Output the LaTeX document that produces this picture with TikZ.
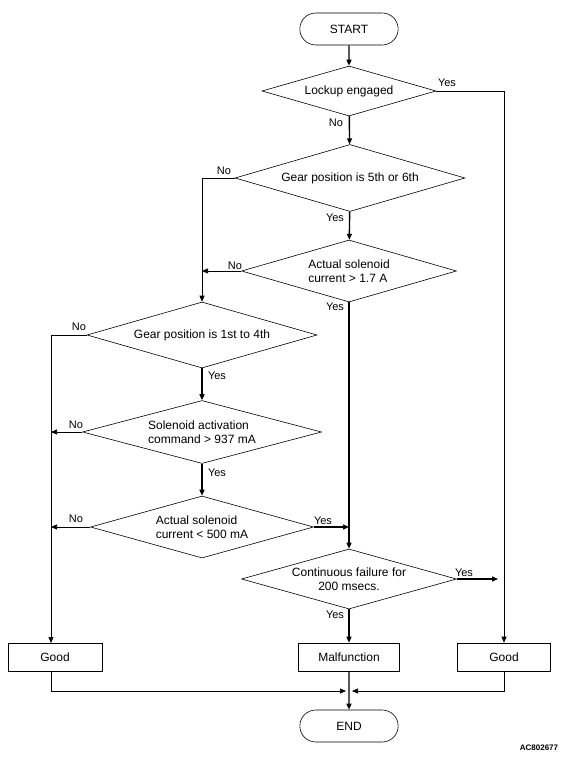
\documentclass[tikz,border=0pt]{standalone}
\usepackage{fontspec}
\setmainfont{Liberation Sans}
\usetikzlibrary{shapes.geometric,shapes.misc,arrows.meta}

\tikzset{
	term/.style={draw, rounded rectangle, minimum width=105pt, minimum height=32pt, line width=0.6pt, font=\fontsize{12}{14}\selectfont},
	decision/.style={draw, diamond, inner sep=0pt, line width=0.6pt, font=\fontsize{12}{14}\selectfont},
	outbox/.style={draw, rectangle, minimum width=94pt, minimum height=28pt, line width=0.6pt, font=\fontsize{12}{14}\selectfont},
	mainflow/.style={line width=1.4pt, -{Triangle[length=6pt,width=5pt]}},
	sideflow/.style={line width=0.7pt, -{Triangle[length=6pt,width=5pt]}},
	lbl/.style={font=\fontsize{11}{13}\selectfont, inner sep=0pt},
}

\begin{document}
\begin{tikzpicture}[x=1pt, y=-1pt]
		%%%%% START %%%%%
		\useasboundingbox (0,0) rectangle (574,762);
		
		\node[term] (start) at (349,29) {START};
		\node[decision, aspect=3.48, minimum width=174pt, minimum height=50pt] (lock) at (349,91) {Lockup engaged};
		\node[decision, aspect=3.43, minimum width=230pt, minimum height=67pt] (gearhi) at (350,178) {Gear position is 5th or 6th};
		\node[decision, aspect=3.47, minimum width=215pt, minimum height=62pt, align=left] (acthi) at (349,271) {Actual solenoid\\current > 1.7 A};
		
		\node[decision, aspect=3.48, minimum width=230pt, minimum height=66pt] (gearlo) at (202,335) {Gear position is 1st to 4th};
		\node[decision, aspect=3.79, minimum width=239pt, minimum height=63pt, align=left] (cmd) at (202,432) {Solenoid activation\\command > 937 mA};
		\node[decision, aspect=3.6, minimum width=223pt, minimum height=62pt, align=left] (actlo) at (202,527) {Actual solenoid\\current < 500 mA};
		\node[decision, aspect=3.58, minimum width=215pt, minimum height=60pt, align=center] (cont) at (349,579) {Continuous failure for\\200 msecs.};
		
		\node[outbox] (goodl) at (55,657) {Good};
		\node[outbox, minimum width=101pt] (malf) at (349,657) {Malfunction};
		\node[outbox, minimum width=93pt] (goodr) at (504,657) {Good};
		\node[term] (end) at (349,726) {END};
		
		\coordinate (lbus) at (51,643);
		\coordinate (join) at (349,691);
		
		% main line
		\draw[mainflow] (start) -- (lock);
		\draw[mainflow] (lock) -- (gearhi);
		\draw[mainflow] (gearhi) -- (acthi);
		\draw[mainflow] (acthi) -- (cont);
		\draw[mainflow] (gearlo) -- (cmd);
		\draw[mainflow] (cmd) -- (actlo);
		\draw[mainflow] (actlo.east) -- (actlo.east -| cont.north);
		\draw[mainflow, shorten >=6pt] (cont.east) -- (cont.east -| goodr.north);
		\draw[mainflow] (cont) -- (malf);
		\draw[mainflow] (malf) -- (end);
		
		% side branches
		\draw[sideflow] (lock.east) -| (goodr.north);
		\draw[sideflow] (gearhi.west) -| (gearlo.north);
		\draw[sideflow] (acthi.west) -- (acthi.west -| gearlo.north);
		\draw[sideflow] (gearlo.west) -| (lbus);
		\draw[sideflow] (cmd.west) -- (cmd.west -| lbus);
		\draw[sideflow] (actlo.west) -- (actlo.west -| lbus);
		\draw[sideflow, shorten >=3pt] (lbus |- goodl.south) |- (join);
		\draw[sideflow, shorten >=3pt] (goodr.south) |- (join);
		
		% labels
		\node[lbl] (l1) at (447,83) {Yes};
		\node[lbl] (l2) at (336,123) {No};
		\node[lbl] (l3) at (224,171) {No};
		\node[lbl] (l4) at (335,218) {Yes};
		\node[lbl] (l5) at (235,266) {No};
		\node[lbl] (l6) at (335,307) {Yes};
		\node[lbl] (l7) at (79,327) {No};
		\node[lbl] (l8) at (217,376) {Yes};
		\node[lbl] (l9) at (76,425) {No};
		\node[lbl] (l10) at (217,473) {Yes};
		\node[lbl] (l11) at (76,519) {No};
		\node[lbl] (l12) at (323,521) {Yes};
		\node[lbl] (l13) at (464,573) {Yes};
		\node[lbl] (l14) at (335,615) {Yes};
		
		\node[font=\bfseries\fontsize{8}{9}\selectfont, inner sep=0pt] (code) at (539,748) {AC802677};
		%%%%% END %%%%%
	\end{tikzpicture}
\end{document}
